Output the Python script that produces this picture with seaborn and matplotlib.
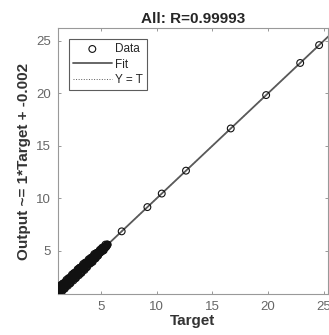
import matplotlib
matplotlib.use("Agg")
import matplotlib.pyplot as plt
import seaborn as sns
import pandas as pd

title = "All: R=0.99993"
xlabel = "Target"
ylabel = "Output ~= 1*Target + -0.002"
slope = 1.0
intercept = -0.002
xticks = [5, 10, 15, 20, 25]
yticks = [5, 10, 15, 20, 25]

# dense cluster (two interleaved reads) + sparse points
targets = [1.10, 1.15, 1.20, 1.25, 1.30, 1.35, 1.40, 1.45, 1.50, 1.55,
           1.60, 1.65, 1.70, 1.75, 1.80, 1.85, 1.90, 1.95, 2.00, 2.05,
           2.10, 2.15, 2.20, 2.25, 2.30, 2.35, 2.40, 2.45, 2.50, 2.55,
           2.60, 2.65, 2.70, 2.75, 2.80, 2.85, 2.90, 2.95, 3.00, 3.05,
           3.10, 3.15, 3.20, 3.25, 3.30, 3.35, 3.40, 3.45, 3.50, 3.55,
           3.60, 3.65, 3.70, 3.75, 3.80, 3.85, 3.90, 3.95, 4.00, 4.05,
           4.10, 4.15, 4.20, 4.25, 4.30, 4.35, 4.40, 4.45, 4.50, 4.55,
           4.60, 4.65, 4.70, 4.75, 4.80, 4.85, 4.90, 4.95, 5.00, 5.05,
           5.10, 5.15, 5.20, 5.25, 5.30, 5.35, 5.40, 5.45, 5.50, 5.55,
           5.60,
           1.125, 1.175, 1.225, 1.275, 1.325, 1.375, 1.425, 1.475, 1.525, 1.575,
           1.625, 1.675, 1.725, 1.775, 1.825, 1.875, 1.925, 1.975, 2.025, 2.075,
           2.125, 2.175, 2.225, 2.275, 2.325, 2.375, 2.425, 2.475, 2.525, 2.575,
           2.625, 2.675, 2.725, 2.775, 2.825, 2.875, 2.925, 2.975, 3.025, 3.075,
           3.125, 3.175, 3.225, 3.275, 3.325, 3.375, 3.425, 3.475, 3.525, 3.575,
           3.625, 3.675, 3.725, 3.775, 3.825, 3.875, 3.925, 3.975, 4.025, 4.075,
           4.125, 4.175, 4.225, 4.275, 4.325, 4.375, 4.425, 4.475, 4.525, 4.575,
           4.625, 4.675, 4.725, 4.775, 4.825, 4.875, 4.925, 4.975, 5.025, 5.075,
           5.125, 5.175, 5.225, 5.275, 5.325, 5.375, 5.425, 5.475, 5.525, 5.575,
           6.86, 9.17, 10.46, 12.64, 16.66, 19.84, 22.90, 24.60]
outputs = [1.40, 0.90, 1.30, 0.90, 1.50, 1.25, 1.75, 1.25, 1.50, 1.70,
           1.90, 1.40, 1.80, 1.40, 2.00, 1.75, 2.25, 1.75, 2.00, 2.20,
           2.40, 1.90, 2.30, 1.90, 2.50, 2.25, 2.75, 2.25, 2.50, 2.70,
           2.90, 2.40, 2.80, 2.40, 3.00, 2.75, 3.25, 2.75, 3.00, 3.20,
           3.40, 2.90, 3.30, 2.90, 3.50, 3.25, 3.75, 3.25, 3.50, 3.70,
           3.85, 3.45, 3.80, 3.45, 3.95, 3.75, 4.20, 3.80, 4.00, 4.15,
           4.35, 3.95, 4.30, 3.95, 4.45, 4.25, 4.70, 4.30, 4.50, 4.65,
           4.80, 4.50, 4.80, 4.55, 4.90, 4.80, 5.10, 4.85, 5.00, 5.10,
           5.30, 5.00, 5.30, 5.05, 5.40, 5.30, 5.60, 5.35, 5.50, 5.60,
           5.60,
           0.98, 1.38, 0.93, 1.33, 1.28, 1.63, 1.23, 1.58, 1.18, 1.88,
           1.48, 1.88, 1.43, 1.83, 1.78, 2.13, 1.73, 2.08, 1.68, 2.38,
           1.98, 2.38, 1.93, 2.33, 2.28, 2.63, 2.23, 2.58, 2.18, 2.88,
           2.48, 2.88, 2.43, 2.83, 2.78, 3.13, 2.73, 3.08, 2.68, 3.38,
           2.98, 3.38, 2.93, 3.33, 3.28, 3.63, 3.23, 3.58, 3.18, 3.88,
           3.53, 3.83, 3.48, 3.83, 3.78, 4.08, 3.78, 4.08, 3.78, 4.28,
           4.03, 4.33, 3.98, 4.33, 4.28, 4.58, 4.28, 4.58, 4.28, 4.78,
           4.53, 4.78, 4.58, 4.83, 4.83, 4.98, 4.83, 5.03, 4.93, 5.18,
           5.08, 5.23, 5.13, 5.33, 5.33, 5.43, 5.38, 5.48, 5.48, 5.58,
           6.86, 9.17, 10.46, 12.64, 16.66, 19.84, 22.90, 24.60]
xlim = (1.13, 25.4)
ylim = (0.88, 26.2)

sns.set_theme(style="white")
plt.rcParams["font.family"] = ["Liberation Sans", "DejaVu Sans"]

fig = plt.figure(figsize=(3.29, 3.35), dpi=100)
ax = fig.add_axes([0.176, 0.122, 0.821, 0.7935])

df = pd.DataFrame({"Target": targets, "Output": outputs})
sns.scatterplot(data=df, x="Target", y="Output", ax=ax, marker="o", s=24,
                facecolor="none", edgecolor="#111111", linewidth=0.8,
                label="Data", zorder=3)
fit_x = [xlim[0] - 1, ylim[1] + 1]
fit_y = [slope * v + intercept for v in fit_x]
ax.plot(fit_x, fit_y, color="#5a5a5a", lw=1.3, label="Fit", zorder=2)
ax.plot(fit_x, fit_x, color="#5a5a5a", lw=0.7, ls=":", label="Y = T", zorder=2)

ax.set_xlim(*xlim)
ax.set_ylim(*ylim)
ax.set_xticks(xticks)
ax.set_yticks(yticks)
ax.tick_params(direction="in", length=2, width=0.6, color="#888888",
               labelsize=9.5, labelcolor="#666666", top=True, right=True,
               bottom=True, left=True, pad=5)
for sp in ax.spines.values():
    sp.set_color("#999999")
    sp.set_linewidth(0.8)
ax.set_title(title, fontsize=11, fontweight="bold", pad=4)
ax.set_xlabel(xlabel, fontsize=11, fontweight="bold", color="#333333", labelpad=1)
ax.set_ylabel(ylabel, fontsize=11, fontweight="bold", color="#333333", labelpad=4)

leg = ax.legend(loc="upper left", fontsize=8.5, frameon=True, fancybox=False,
                borderpad=0.35, handlelength=3.3, handletextpad=0.3,
                labelspacing=0.3, borderaxespad=0.0,
                bbox_to_anchor=(0.04, 0.96))
leg.get_frame().set_edgecolor("#333333")
leg.get_frame().set_linewidth(0.8)

fig.savefig("out.png", dpi=100)
